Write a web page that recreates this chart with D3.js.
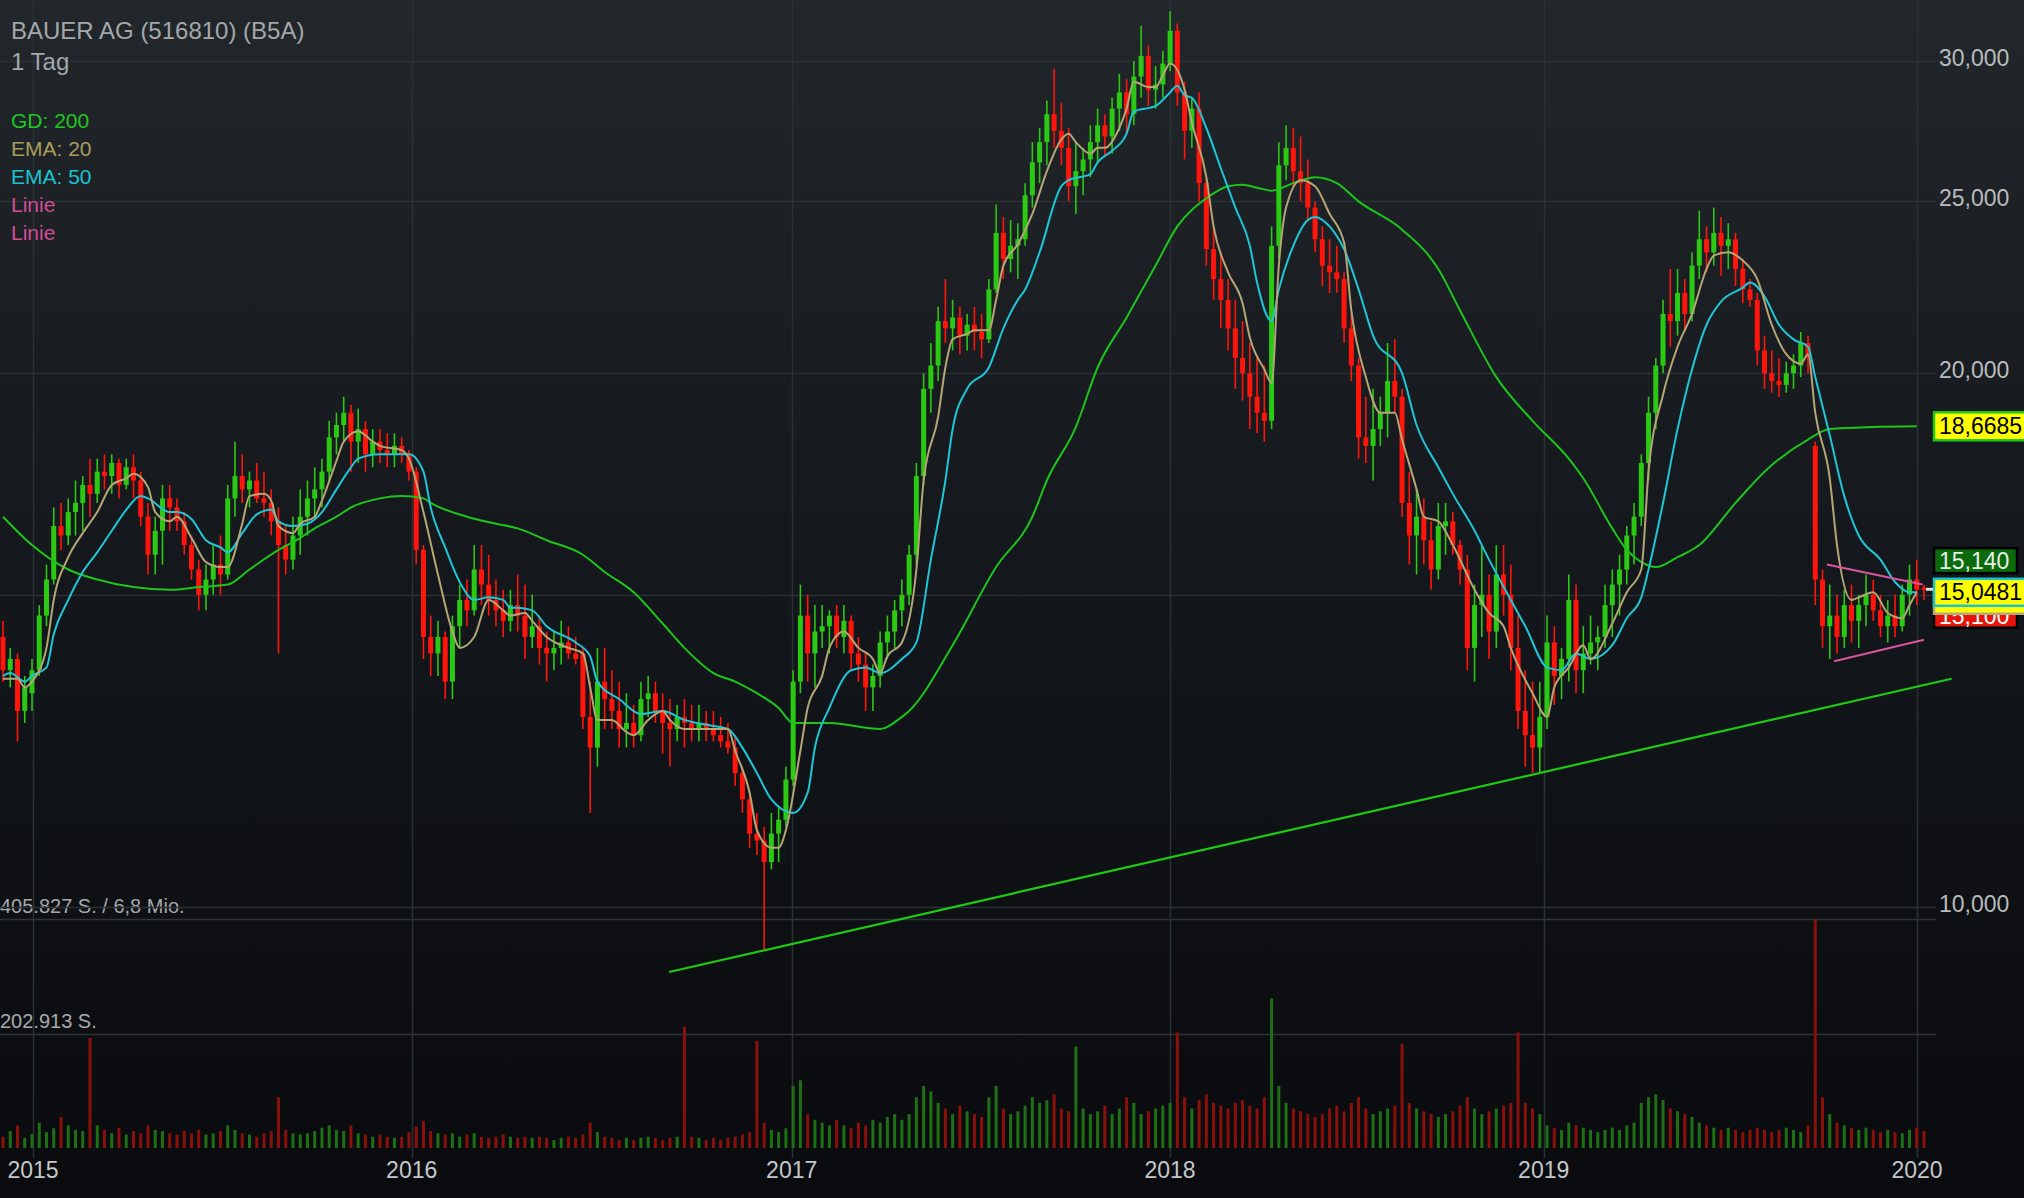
<!DOCTYPE html>
<html><head><meta charset="utf-8">
<script src="https://cdn.jsdelivr.net/npm/d3@7"></script>
<style>html,body{margin:0;padding:0;background:#0b0d10;overflow:hidden}svg{display:block}</style>
</head><body>
<svg id="chart" width="2024" height="1198"></svg>
<script>
// ---------------- DATA ----------------
const title = "BAUER AG (516810) (B5A)";
const period = "1 Tag";
const legendItems = [["GD: 200","#1fc81f"],["EMA: 20","#a89e5c"],["EMA: 50","#18c4ce"],["Linie","#d24c97"],["Linie","#d24c97"]];
// weekly candles, weeks starting Monday 2014-12-01 up to the week of 2019-12-30
const opens = [
14.2,13.6,13.8,12.9,13.2,13.6,14.6,15.3,16.4,16.2,
16.7,16.9,17.3,17.1,17.6,17.5,17.8,17.3,17.7,17.4,
16.6,15.8,16.3,17.0,16.8,16.5,16.0,15.5,15.0,15.3,
15.6,15.4,17.0,17.5,17.2,17.4,17.0,16.9,16.5,16.0,
15.7,16.2,16.6,17.0,17.2,17.6,18.4,18.7,19.0,18.3,
18.6,18.0,18.3,18.1,18.0,18.2,18.0,17.6,15.9,14.2,
13.9,14.2,13.4,14.4,14.9,14.7,15.5,15.2,14.9,14.7,
14.5,14.8,14.6,14.2,14.4,14.0,13.9,14.0,14.1,13.9,
13.9,12.8,12.3,13.4,13.1,12.9,12.6,12.7,12.5,13.1,
13.2,12.9,12.7,12.6,12.8,12.7,12.6,12.7,12.6,12.5,
12.4,12.3,11.9,11.5,11.0,10.9,10.6,11.0,11.2,11.8,
13.4,14.6,13.9,14.3,14.4,14.6,14.2,14.5,13.9,13.7,
13.3,13.5,14.1,14.3,14.7,15.0,15.8,17.5,19.6,20.2,
21.4,21.2,21.5,21.0,21.3,21.1,20.9,22.3,24.0,23.2,
23.6,23.8,25.2,26.3,27.0,28.0,27.4,26.8,25.5,26.0,
26.4,27.0,27.6,27.2,28.2,28.8,28.0,29.4,30.2,28.9,
29.1,29.9,31.2,28.8,27.4,28.2,25.6,23.5,22.6,22.0,
21.2,20.4,20.0,19.4,19.0,18.8,23.6,26.2,26.8,26.0,
25.6,24.8,23.8,23.0,22.8,22.6,21.2,20.2,18.4,18.2,
18.6,19.0,19.8,19.4,16.9,16.2,16.6,16.1,15.5,16.4,
16.5,16.0,15.5,14.0,14.8,15.0,14.3,15.4,15.0,14.0,
12.9,12.5,12.3,12.8,14.1,13.5,13.8,14.9,13.6,13.9,
14.1,14.2,14.8,15.2,15.5,16.2,16.6,17.8,19.0,20.2,
21.6,21.4,22.2,21.6,23.0,23.8,23.4,24.0,23.6,23.8,
22.9,22.3,22.0,20.6,20.0,19.8,19.7,20.0,20.2,20.8,
18.2,15.3,14.4,14.6,14.2,14.8,14.5,14.8,15.0,14.7,
14.4,14.6,14.4,15.0,15.3,15.14];
const highs = [
14.5,14.0,13.9,13.5,13.8,14.8,15.6,16.8,16.9,17.0,
17.4,17.5,17.9,17.9,18.0,18.0,17.9,17.9,18.0,17.6,
16.9,16.6,17.3,17.3,17.0,16.7,16.2,15.7,15.6,16.0,
16.2,17.3,18.3,18.0,17.6,17.8,17.6,17.2,16.8,16.4,
16.6,17.2,17.4,17.7,17.9,18.8,19.0,19.4,19.2,19.1,
18.8,18.6,18.6,18.5,18.5,18.4,18.1,17.7,16.0,14.6,
14.5,14.3,14.6,15.2,15.3,16.0,16.0,15.8,15.3,15.1,
15.1,15.4,15.2,15.0,14.6,14.3,14.3,14.5,14.4,14.2,
14.0,13.4,14.0,14.0,13.6,13.4,13.2,13.0,13.4,13.5,
13.4,13.2,13.1,13.0,13.1,13.0,13.0,12.9,12.9,12.8,
12.7,12.5,12.0,11.6,11.3,11.1,11.3,11.4,12.0,13.6,
15.2,15.0,14.8,14.8,14.7,14.8,14.8,14.6,14.2,13.9,
13.7,14.3,14.6,14.9,15.3,16.0,17.8,20.0,20.8,21.8,
22.6,22.0,21.8,21.6,21.8,21.6,22.6,24.9,24.5,24.4,
24.3,25.6,27.0,27.5,28.5,29.7,28.4,27.5,27.0,26.8,
27.6,28.2,28.0,28.6,29.5,29.3,30.0,31.4,30.6,29.8,
30.4,32.0,31.5,29.2,28.6,28.8,25.8,24.2,23.4,22.6,
22.0,21.4,20.8,20.4,20.2,24.2,27.0,27.6,27.5,27.2,
26.4,25.0,24.2,23.8,23.6,22.8,21.6,20.4,19.4,19.6,
19.4,20.8,20.9,19.6,17.6,17.2,17.0,16.5,16.9,16.9,
16.7,16.1,15.8,15.2,16.0,15.4,16.0,16.0,15.6,14.6,
13.6,13.4,13.4,14.6,14.4,14.0,15.4,15.2,14.4,14.6,
14.4,15.2,15.5,15.8,16.4,16.9,18.0,19.4,20.4,22.0,
22.9,22.9,22.6,23.4,24.7,24.2,24.8,24.5,24.3,24.0,
23.2,22.6,22.2,21.0,20.6,20.4,20.3,20.5,21.1,21.0,
18.3,15.5,15.2,15.0,15.1,15.2,15.0,15.4,15.3,15.0,
14.9,15.0,15.2,15.6,15.7,15.2];
const lows = [
13.4,13.3,12.4,12.7,12.9,13.5,14.4,15.2,15.9,16.0,
16.2,16.3,16.6,16.9,17.2,17.1,17.0,17.2,17.0,16.4,
15.4,15.4,15.6,16.3,16.3,15.8,15.3,14.7,14.7,15.0,
15.0,15.3,16.6,16.9,16.8,16.9,16.6,16.2,13.9,15.4,
15.5,15.8,16.2,16.6,16.8,17.4,18.0,18.3,17.6,17.8,
17.6,17.7,17.8,17.7,17.7,17.8,17.4,15.6,13.8,13.5,
13.5,13.1,13.1,14.0,14.4,14.6,14.8,14.6,14.4,14.2,
14.3,14.3,13.8,14.0,13.7,13.4,13.6,13.7,13.8,13.7,
12.6,11.3,12.0,12.6,12.6,12.3,12.3,12.3,12.4,12.8,
12.7,12.2,12.0,12.4,12.3,12.4,12.4,12.4,12.4,12.3,
12.2,11.7,11.3,10.8,10.7,9.46,10.5,10.6,11.1,11.7,
13.2,13.4,13.3,14.0,13.9,14.0,13.9,13.6,13.4,12.9,
12.9,13.3,13.8,14.0,14.4,14.8,15.6,17.3,19.0,19.8,
20.8,20.6,20.5,20.6,20.6,20.4,20.8,22.2,22.6,22.8,
22.6,23.6,24.8,25.6,26.2,26.8,26.2,25.0,24.6,25.2,
25.8,26.3,26.5,26.6,27.4,27.3,27.6,28.6,28.3,28.2,
28.6,29.6,28.3,26.4,26.8,25.0,23.0,22.0,21.2,20.6,
19.6,19.3,18.6,18.5,18.3,18.6,23.2,25.7,25.5,25.0,
24.4,23.4,22.4,22.2,22.2,20.8,19.8,17.9,17.8,17.4,
18.2,18.4,19.0,16.6,15.6,15.4,15.6,15.1,15.3,15.8,
15.8,15.2,13.6,13.4,14.2,13.8,14.0,14.6,13.6,12.6,
12.0,11.9,11.9,12.6,13.0,13.1,13.4,13.2,13.2,13.7,
13.6,14.0,14.2,14.6,15.2,15.6,16.4,17.4,18.6,20.0,
20.7,21.0,21.1,21.4,22.6,22.8,23.0,22.7,22.9,22.4,
21.9,21.8,20.2,19.6,19.5,19.4,19.5,19.6,19.9,20.0,
14.8,14.0,13.8,13.9,14.0,14.1,14.0,14.4,14.5,14.2,
14.1,14.2,14.3,14.6,14.8,14.9];
const closes = [
13.6,13.8,12.9,13.3,13.6,14.6,15.3,16.4,16.2,16.7,
16.9,17.3,17.1,17.6,17.5,17.8,17.3,17.7,17.4,16.6,
15.8,16.3,17.0,16.8,16.5,16.0,15.5,15.0,15.3,15.6,
15.4,17.0,17.5,17.2,17.4,17.0,16.9,16.5,16.0,15.7,
16.2,16.6,17.0,17.2,17.6,18.4,18.7,19.0,18.3,18.6,
18.0,18.3,18.1,18.0,18.2,18.0,17.6,15.9,14.2,13.9,
14.2,13.4,14.4,14.9,14.7,15.5,15.2,14.9,14.7,14.5,
14.8,14.6,14.2,14.4,14.0,13.9,14.0,14.1,13.9,13.8,
12.8,12.3,13.4,13.1,12.9,12.6,12.7,12.5,13.1,13.2,
12.9,12.7,12.6,12.8,12.7,12.6,12.7,12.6,12.5,12.4,
12.3,11.9,11.5,11.0,10.9,10.6,11.0,11.2,11.8,13.4,
14.6,13.9,14.3,14.4,14.6,14.2,14.5,13.9,13.7,13.3,
13.5,14.1,14.3,14.7,15.0,15.8,17.5,19.6,20.2,21.4,
21.2,21.5,21.0,21.3,21.1,20.9,22.3,24.0,23.2,23.6,
23.8,25.2,26.3,27.0,28.0,27.4,26.8,25.5,26.0,26.4,
27.0,27.6,27.2,28.2,28.8,28.0,29.4,30.2,28.9,29.1,
29.9,31.2,28.8,27.4,28.2,25.6,23.5,22.6,22.0,21.2,
20.4,20.0,19.4,19.0,18.8,23.6,26.2,26.8,26.0,25.6,
24.8,23.8,23.0,22.8,22.6,21.2,20.2,18.4,18.2,18.6,
19.0,19.8,19.4,16.9,16.2,16.6,16.1,15.5,16.4,16.5,
16.0,15.5,14.0,14.8,15.0,14.3,15.4,15.0,14.0,12.9,
12.5,12.3,12.8,14.1,13.5,13.8,14.9,13.6,13.9,14.1,
14.2,14.8,15.2,15.5,16.2,16.6,17.8,19.0,20.2,21.6,
21.4,22.2,21.6,23.0,23.8,23.4,24.0,23.6,23.8,22.9,
22.3,22.0,20.6,20.0,19.8,19.7,20.0,20.2,20.8,20.4,
15.3,14.4,14.6,14.2,14.8,14.5,14.8,15.0,14.7,14.4,
14.6,14.4,15.0,15.3,15.1,15.1];
// weekly peak volume, thousand shares
const volumesK = [
20,30,40,18,25,45,28,35,55,40,
32,30,195,40,32,26,36,24,30,26,
40,32,30,26,24,30,26,32,24,26,
30,40,32,26,24,20,26,30,90,32,
26,24,26,30,36,40,32,30,40,26,
24,20,24,20,18,20,28,38,48,30,
26,24,26,20,24,26,20,18,20,24,
20,18,20,18,20,18,14,18,20,18,
24,45,28,20,18,14,18,14,18,20,
18,14,18,20,215,20,18,14,18,14,
18,20,24,28,190,45,32,28,35,110,
120,60,50,45,40,50,40,35,45,40,
50,45,55,60,50,60,90,110,100,80,
70,60,75,65,60,55,90,110,70,60,
65,75,90,80,85,95,70,65,180,70,
60,65,75,60,70,90,80,60,65,70,
75,80,205,90,70,85,95,80,75,70,
80,85,75,70,90,265,110,80,70,65,
60,55,60,70,75,65,80,90,70,60,
65,70,75,185,80,70,65,60,55,60,
65,75,90,70,60,65,70,75,80,205,
80,70,60,40,36,32,45,40,36,32,
28,32,36,32,40,45,80,90,95,85,
70,65,60,55,45,40,36,32,36,32,
28,32,36,32,28,32,36,32,28,40,
405,90,60,45,40,36,32,36,32,28,
32,28,26,32,36,30];
// indicator readings: [week index, price]
const gd200 = [[0,16.6],[4,16.0],[9,15.5],[13,15.3],[18,15.15],[23,15.1],[27,15.15],[31,15.2],[34,15.5],[38,15.9],[41,16.15],[43,16.35],[46,16.6],[48,16.8],[52,17.0],[55,17.05],[58,17.0],[59,16.9],[64,16.6],[68,16.45],[71,16.35],[75,16.1],[80,15.8],[83,15.45],[87,15.05],[91,14.45],[94,14.0],[98,13.55],[101,13.4],[104,13.2],[107,12.95],[109,12.7],[114,12.7],[121,12.6],[124,12.8],[125,12.9],[131,14.05],[137,15.55],[142,16.6],[144,17.4],[148,18.65],[151,20.15],[155,21.5],[159,23.0],[162,24.2],[166,25.1],[169,25.5],[171,25.55],[173,25.45],[175,25.35],[178,25.6],[181,25.8],[184,25.6],[187,25.0],[193,24.1],[198,22.9],[201,21.7],[206,19.9],[211,18.8],[216,17.9],[218,17.45],[222,16.35],[224,15.9],[226,15.65],[228,15.55],[231,15.75],[234,16.0],[239,16.9],[243,17.6],[249,18.35],[252,18.6],[258,18.65],[264,18.6685]];
const ema50 = [[0,13.5],[1,13.55],[3,13.4],[4,13.5],[6,13.65],[7,14.25],[9,14.9],[11,15.45],[13,15.85],[15,16.3],[17,16.75],[19,17.05],[20,17.0],[23,16.7],[24,16.7],[26,16.55],[28,16.1],[30,15.95],[31,15.85],[33,16.25],[35,16.65],[37,16.75],[38,16.5],[40,16.4],[42,16.45],[44,16.7],[46,17.2],[48,17.7],[49,17.9],[52,18.0],[54,18.0],[56,18.0],[58,17.6],[59,16.8],[61,15.95],[63,15.25],[65,14.9],[67,14.95],[69,14.9],[70,14.75],[71,14.75],[73,14.7],[75,14.4],[79,14.1],[81,13.85],[82,13.4],[85,13.1],[88,12.85],[91,12.9],[94,12.75],[98,12.65],[100,12.6],[102,12.3],[104,11.9],[106,11.5],[109,11.3],[111,11.6],[112,12.3],[114,12.95],[117,13.6],[119,13.65],[121,13.55],[124,13.8],[126,14.1],[128,15.7],[130,17.4],[131,18.6],[133,19.6],[136,20.15],[138,21.2],[140,22.0],[141,22.3],[143,23.4],[146,25.5],[147,25.7],[150,25.9],[151,26.3],[153,26.7],[155,27.3],[156,28.1],[159,28.3],[161,28.8],[162,29.05],[163,28.7],[164,28.6],[166,27.5],[168,26.1],[170,24.8],[172,23.6],[173,22.5],[175,21.4],[176,22.3],[178,23.6],[180,24.4],[181,24.5],[183,24.2],[184,23.9],[185,23.5],[187,22.3],[189,21.0],[193,20.0],[195,18.7],[198,17.7],[200,17.1],[203,16.3],[205,15.7],[208,14.9],[210,14.4],[213,13.65],[215,13.6],[217,13.9],[219,13.8],[222,14.05],[224,14.55],[226,14.95],[227,15.5],[229,16.9],[231,18.6],[233,20.1],[235,21.3],[237,21.95],[240,22.35],[241,22.5],[243,22.1],[245,21.3],[247,20.9],[249,20.7],[250,19.9],[252,18.45],[254,17.05],[256,16.2],[259,15.7],[261,15.25],[263,15.05],[264,15.0481]];
const ema20 = [[0,13.45],[2,13.45],[3,13.3],[4,13.4],[6,14.0],[7,14.9],[9,15.75],[11,16.25],[13,16.7],[15,17.3],[17,17.45],[18,17.55],[20,17.25],[21,16.7],[23,16.5],[24,16.6],[26,16.15],[28,15.65],[30,15.55],[31,15.55],[33,16.45],[34,17.05],[36,17.1],[37,16.95],[38,16.4],[40,16.25],[41,16.45],[43,16.6],[44,16.95],[46,17.85],[47,18.3],[49,18.55],[51,18.3],[52,18.2],[55,18.1],[56,17.9],[58,16.7],[60,15.4],[62,14.3],[63,14.0],[65,14.2],[67,14.9],[69,14.7],[70,14.6],[72,14.65],[73,14.5],[75,14.2],[78,14.0],[80,13.9],[81,13.3],[82,12.75],[84,12.75],[86,12.55],[87,12.5],[89,12.75],[91,12.9],[92,12.75],[94,12.6],[97,12.6],[100,12.6],[101,12.25],[103,11.6],[104,11.05],[106,10.8],[107,10.8],[108,11.05],[110,12.25],[111,12.95],[113,13.5],[114,14.0],[116,14.3],[118,14.0],[120,13.8],[121,13.55],[122,13.85],[124,14.1],[126,15.5],[127,17.4],[129,18.9],[130,20.15],[131,20.9],[133,21.05],[134,21.15],[136,21.15],[137,22.0],[138,23.0],[140,23.65],[142,24.6],[144,26.0],[146,27.1],[147,27.3],[148,27.0],[150,26.6],[151,26.8],[152,26.8],[154,27.5],[155,28.2],[156,29.2],[158,29.0],[159,29.0],[160,29.45],[161,29.9],[163,28.9],[164,27.7],[166,25.8],[167,24.2],[169,22.8],[171,21.9],[172,20.95],[174,20.1],[175,19.75],[176,23.0],[177,24.8],[179,25.7],[181,25.5],[183,24.6],[185,23.7],[186,21.7],[188,19.9],[190,19.0],[192,19.0],[193,18.35],[195,17.2],[196,16.6],[198,16.5],[200,16.0],[203,15.1],[205,14.65],[207,14.4],[208,14.0],[211,13.2],[213,12.8],[214,13.3],[216,13.65],[218,14.05],[219,13.8],[222,14.45],[224,15.05],[226,15.5],[227,17.6],[229,19.45],[231,20.7],[233,21.6],[235,22.9],[236,23.3],[238,23.4],[240,23.15],[242,22.6],[244,21.3],[246,20.5],[248,20.25],[249,20.5],[250,19.0],[252,17.45],[253,16.0],[255,14.9],[256,14.95],[258,15.05],[260,14.65],[262,14.55],[263,14.8],[264,15.05]];
const trendLine = [[91.9,9.19],[268.8,13.45]];
const wedgeUpper = [[251.6,15.6],[264.8,15.2]];
const wedgeLower = [[252.6,13.76],[265.0,14.15]];
const priceTicks = [10,15,20,25,30];
const years = [2015,2016,2017,2018,2019,2020];
const volumeRefs = [[405827,"405.827 S. / 6,8 Mio."],[202913,"202.913 S."]];
const volumeMax = 405827;
// last-value labels: [text, value, fill, border, text colour]
const lastRed   = ["15,100",15.100,"#e8140c","#000000","#ffffff"];
const lastEma20 = ["",15.02,"#ffff00","#b5a878","#000000"];
const lastEma50 = ["15,0481",15.0481,"#ffff00","#18c4ce","#000000"];
const lastGreen = ["15,140",15.140,"#0b6a0b","#000000","#e8f0e8"];
const lastGd    = ["18,6685",18.6685,"#ffff00","#1fc81f","#000000"];

// ---------------- CHART ----------------
const W = 2024, H = 1198;
const svg = d3.select("#chart");
const FONT = "'Liberation Sans', Arial, Helvetica, sans-serif";
const weeks = d3.timeMonday.range(new Date(2014,11,1), new Date(2020,0,4));
const n = weeks.length;
const x = d3.scaleLinear().domain([0, n-1]).range([3, 1924]);
const xTime = d3.scaleTime().domain(years.map(yv => new Date(yv,0,1)))
  .range([33, 411.7, 791.7, 1170, 1543.7, 1917]);
const y = d3.scaleLog().domain([10, 30]).range([907, 61]);
const yVol = d3.scaleLinear().domain([0, volumeMax]).range([1148, 919]);
const plotRight = 1936;
const gridColor = "#2b3035";

const defs = svg.append("defs");
const g = defs.append("linearGradient").attr("id","bg").attr("x1",0).attr("y1",0).attr("x2",0).attr("y2",1);
g.append("stop").attr("offset","0%").attr("stop-color","#22272b");
g.append("stop").attr("offset","55%").attr("stop-color","#121519");
g.append("stop").attr("offset","100%").attr("stop-color","#090b0e");
svg.append("rect").attr("width",W).attr("height",H).attr("fill","url(#bg)");

// volume labels (under grid lines)
svg.append("g").selectAll("text").data(volumeRefs).join("text")
  .attr("x",0).attr("y",d=>yVol(d[0])-6).text(d=>d[1])
  .attr("font-family",FONT).attr("font-size",20).attr("fill","#a6aaad");

// grid
const grid = svg.append("g");
grid.selectAll("line.h").data(priceTicks).join("line").attr("class","h")
  .attr("x1",0).attr("x2",plotRight).attr("y1",d=>Math.round(y(d))+0.5).attr("y2",d=>Math.round(y(d))+0.5)
  .attr("stroke",gridColor).attr("stroke-width",1.5);
grid.selectAll("line.v").data(years).join("line").attr("class","v")
  .attr("x1",d=>Math.round(xTime(new Date(d,0,1)))+0.5).attr("x2",d=>Math.round(xTime(new Date(d,0,1)))+0.5)
  .attr("y1",0).attr("y2",1158).attr("stroke",gridColor).attr("stroke-width",1.5);
grid.selectAll("line.vol").data(volumeRefs).join("line").attr("class","vol")
  .attr("x1",0).attr("x2",plotRight).attr("y1",d=>Math.round(yVol(d[0]))+0.5).attr("y2",d=>Math.round(yVol(d[0]))+0.5)
  .attr("stroke","#2f3439").attr("stroke-width",1.5);

// candles data
const candles = d3.range(n).map(i => ({i, o:opens[i], h:highs[i], l:lows[i], c:closes[i], v:volumesK[i]*1000}));
const up = d => d.c >= d.o;

// volume bars
svg.append("g").selectAll("rect").data(candles).join("rect")
  .attr("x",d=>x(d.i)-1.5).attr("width",3)
  .attr("y",d=>yVol(d.v)).attr("height",d=>yVol(0)-yVol(d.v))
  .attr("fill",d=>up(d)?"#1f6f14":"#8a100b");

// candles
const cg = svg.append("g");
cg.selectAll("line").data(candles).join("line")
  .attr("x1",d=>x(d.i)).attr("x2",d=>x(d.i)).attr("y1",d=>y(d.h)).attr("y2",d=>y(d.l))
  .attr("stroke",d=>up(d)?"#2bc814":"#ff150b").attr("stroke-width",1.6);
cg.selectAll("rect").data(candles).join("rect")
  .attr("x",d=>x(d.i)-2.5).attr("width",5)
  .attr("y",d=>y(Math.max(d.o,d.c))).attr("height",d=>Math.max(1.5, Math.abs(y(d.o)-y(d.c))))
  .attr("fill",d=>up(d)?"#2bc814":"#ff150b");

// indicator lines
const line = d3.line().x(d=>x(d[0])).y(d=>y(d[1])).curve(d3.curveMonotoneX);
svg.append("path").attr("d",line(gd200)).attr("fill","none").attr("stroke","#1cc41c").attr("stroke-width",2);
svg.append("path").attr("d",line(ema50)).attr("fill","none").attr("stroke","#1ec6d6").attr("stroke-width",2);
svg.append("path").attr("d",line(ema20)).attr("fill","none").attr("stroke","#b4a676").attr("stroke-width",2);

// drawn lines
const straight = d3.line().x(d=>x(d[0])).y(d=>y(d[1]));
svg.append("path").attr("d",straight(trendLine)).attr("stroke","#1ecb14").attr("stroke-width",2.2).attr("fill","none");
svg.append("path").attr("d",straight(wedgeUpper)).attr("stroke","#d9559f").attr("stroke-width",2).attr("fill","none");
svg.append("path").attr("d",straight(wedgeLower)).attr("stroke","#d9559f").attr("stroke-width",2).attr("fill","none");

// axes labels
const fmt = d3.formatLocale({decimal:",", thousands:".", grouping:[3], currency:["","€"]}).format(".3f");
svg.append("g").selectAll("text").data(priceTicks).join("text")
  .attr("x",1939).attr("y",d=>y(d)+5).text(d=>fmt(d))
  .attr("font-family",FONT).attr("font-size",23).attr("fill","#b8bcbf");
svg.append("g").selectAll("text").data(years).join("text")
  .attr("x",d=>xTime(new Date(d,0,1))).attr("y",1178).attr("text-anchor","middle").text(d=>String(d))
  .attr("font-family",FONT).attr("font-size",23).attr("fill","#c4c8cb");

// title + legend
svg.append("text").attr("x",11).attr("y",39).text(title).attr("font-family",FONT).attr("font-size",24).attr("fill","#a4a8ab");
svg.append("text").attr("x",11).attr("y",70).text(period).attr("font-family",FONT).attr("font-size",24).attr("fill","#a4a8ab");
svg.append("g").selectAll("text").data(legendItems).join("text")
  .attr("x",11).attr("y",(d,i)=>128+i*28).text(d=>d[0]).attr("fill",d=>d[1])
  .attr("font-family",FONT).attr("font-size",21);

// value labels
function valueBox(lbl, cy, w, h){
  const gg = svg.append("g");
  gg.append("rect").attr("x",1934).attr("y",cy-h/2).attr("width",w).attr("height",h)
    .attr("fill",lbl[2]).attr("stroke",lbl[3]).attr("stroke-width",2.5);
  if (lbl[0]) gg.append("text").attr("x",1939).attr("y",cy+8).text(lbl[0])
    .attr("font-family",FONT).attr("font-size",23).attr("fill",lbl[4]);
}
valueBox(lastRed, y(lastRed[1])+26, 83, 24);
valueBox(lastEma20, y(lastEma20[1])+8, 110, 24);
valueBox(lastEma50, y(lastEma50[1]), 110, 27);
valueBox(lastGreen, y(lastGreen[1])-27, 83, 25);
valueBox(lastGd, y(lastGd[1]), 110, 28);
svg.append("line").attr("x1",1926).attr("x2",1933).attr("y1",y(lastEma50[1])-3).attr("y2",y(lastEma50[1])-3)
  .attr("stroke","#dddddd").attr("stroke-width",3);
</script>
</body></html>
